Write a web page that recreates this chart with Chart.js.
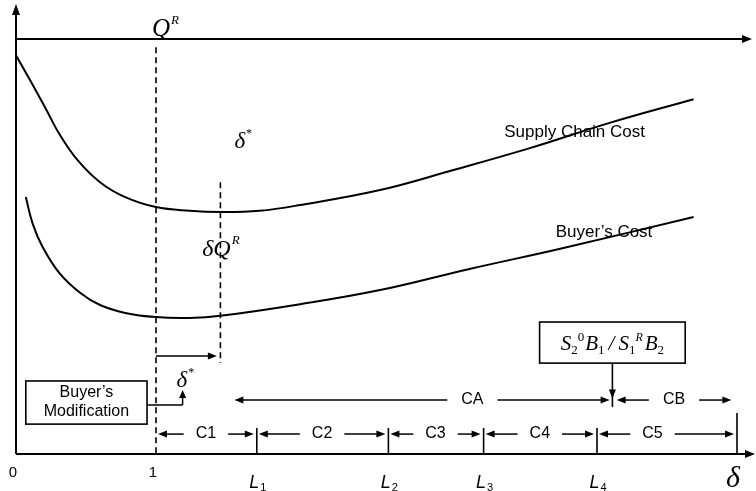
<!DOCTYPE html>
<html>
<head>
<meta charset="utf-8">
<script src="https://cdn.jsdelivr.net/npm/chart.js@4.4.1/dist/chart.umd.min.js"></script>
<style>
  html, body { margin: 0; background: #fff; }
  #wrap { width: 756px; height: 491px; }
</style>
</head>
<body>
<div id="wrap"><canvas id="chart"></canvas></div>
<script>
// Cost curves vs. delta (schematic)

const scDelta   = [0, 0.10, 0.21, 0.31, 0.44, 0.60, 0.78, 1.00, 1.24, 1.46, 1.74, 2.03, 2.60, 3.10, 3.67, 4.24, 4.84];
const scCost    = [96.1, 90.1, 83.4, 77.1, 70.8, 65.5, 61.9, 59.5, 58.6, 58.3, 58.6, 60.0, 63.6, 68.2, 73.7, 79.8, 85.5];

const buyerDelta = [0.07, 0.12, 0.19, 0.31, 0.46, 0.60, 0.78, 1.00, 1.24, 1.46, 2.03, 2.60, 3.24, 3.88, 4.84];
const buyerCost  = [61.9, 55.4, 49.9, 43.6, 38.8, 35.9, 34.0, 33.0, 32.8, 33.3, 36.1, 39.5, 44.6, 49.4, 57.1];

const xTickValues = [0, 1];
const xTickLabels = ['0', '1'];
const boundaries = [1.72, 2.66, 3.34, 4.15, 5.15];   // L1..L4 and the end of C5
const boundaryNames = ['1', '2', '3', '4'];
const regionLabels = ['C1', 'C2', 'C3', 'C4', 'C5'];
const qR = 1;
const deltaStar = 1.46;
const topLine = 100;
const caRange = [1.56, 4.24];
const cbRange = [4.29, 5.11];
const switchPoint = 4.26;

const SANS = '"Liberation Sans", Arial, sans-serif';
const SERIF = '"Liberation Serif", "Times New Roman", serif';

function toPoints(xs, ys) {
  return xs.map((x, i) => ({ x: x, y: ys[i] }));
}

// draw text made of pieces with their own font and vertical offset
function drawRich(ctx, x, y, parts, align) {
  let total = 0;
  const widths = parts.map(p => { ctx.font = p[1]; const w = ctx.measureText(p[0]).width; total += w + (p[3] || 0); return w; });
  let cx = align === 'center' ? x - total / 2 : x;
  ctx.textAlign = 'left';
  ctx.textBaseline = 'alphabetic';
  parts.forEach((p, i) => {
    ctx.font = p[1];
    ctx.fillText(p[0], cx, y + (p[2] || 0));
    cx += widths[i] + (p[3] || 0);
  });
}

const diagram = {
  id: 'diagram',
  beforeDatasetsDraw(chart) {
    const ctx = chart.ctx;
    const X = v => chart.scales.x.getPixelForValue(v);
    const Y = v => chart.scales.y.getPixelForValue(v);

    const line = (x1, y1, x2, y2, w, dash) => {
      ctx.save();
      ctx.lineWidth = w || 1.5;
      ctx.setLineDash(dash || []);
      ctx.beginPath();
      ctx.moveTo(x1, y1);
      ctx.lineTo(x2, y2);
      ctx.stroke();
      ctx.restore();
    };
    const head = (x, y, dir, len, half) => {
      len = len || 9; half = half || 3.5;
      ctx.beginPath();
      if (dir === 'r') { ctx.moveTo(x, y); ctx.lineTo(x - len, y - half); ctx.lineTo(x - len, y + half); }
      if (dir === 'l') { ctx.moveTo(x, y); ctx.lineTo(x + len, y - half); ctx.lineTo(x + len, y + half); }
      if (dir === 'u') { ctx.moveTo(x, y); ctx.lineTo(x - half, y + len); ctx.lineTo(x + half, y + len); }
      if (dir === 'd') { ctx.moveTo(x, y); ctx.lineTo(x - half, y - len); ctx.lineTo(x + half, y - len); }
      ctx.closePath();
      ctx.fill();
    };

    ctx.save();
    ctx.strokeStyle = '#000';
    ctx.fillStyle = '#000';

    // axes
    const x0 = X(0), y0 = Y(0);
    line(x0, y0, x0, chart.chartArea.top + 12, 2);
    head(x0, chart.chartArea.top + 4, 'u', 11, 4);
    line(x0, y0, chart.chartArea.right - 6, y0, 2);
    head(chart.chartArea.right - 1, y0, 'r', 10, 4);
    line(x0, Y(topLine), chart.chartArea.right - 10, Y(topLine), 2);
    head(chart.chartArea.right - 4, Y(topLine), 'r', 10, 4);

    // dashed guides
    line(X(qR), Y(98), X(qR), y0, 1.6, [6, 4]);
    line(X(deltaStar), Y(65.5), X(deltaStar), Y(21.9), 1.6, [6, 4]);

    // tick labels
    ctx.textAlign = 'center';
    ctx.textBaseline = 'middle';
    ctx.font = '15px ' + SANS;
    xTickValues.forEach((v, i) => ctx.fillText(xTickLabels[i], X(v) - 3, y0 + 19));

    // boundary ticks and L labels
    boundaries.forEach((b, i) => {
      const last = i === boundaries.length - 1;
      line(X(b), last ? y0 - 41 : y0 - 26, X(b), y0, 1.6);
      if (!last) {
        drawRich(ctx, X(b) + 1, y0 + 34, [
          ['L', 'italic 18px ' + SANS, 0, 1],
          [boundaryNames[i], '11px ' + SANS, 3]
        ], 'center');
      }
    });
    ctx.font = 'italic 30px ' + SERIF;
    ctx.textAlign = 'center';
    ctx.textBaseline = 'alphabetic';
    ctx.fillText('δ', X(boundaries[4]) - 4, y0 + 33);

    // C1..C5 row
    const rowY = Y(4.8);
    ctx.font = '16px ' + SANS;
    regionLabels.forEach((lab, i) => {
      const s = i === 0 ? qR : boundaries[i - 1];
      const e = boundaries[i];
      const xs = X(s) + 2, xe = X(e) - 3;
      const mid = (xs + xe) / 2 + (i === 4 ? -14 : 0);
      const gap = ctx.measureText(lab).width / 2 + 12;
      line(xs + 4, rowY, mid - gap, rowY, 1.5);
      head(xs, rowY, 'l');
      line(mid + gap, rowY, xe - 4, rowY, 1.5);
      head(xe, rowY, 'r');
      ctx.textAlign = 'center';
      ctx.textBaseline = 'middle';
      ctx.font = '16px ' + SANS;
      ctx.fillText(lab, mid, rowY);
    });

    // CA / CB row
    const caY = Y(13.0);
    const span = (a, b, lab, tx) => {
      const xa = X(a), xb = X(b), xm = X(tx);
      const gap = ctx.measureText(lab).width / 2 + 14;
      line(xa + 4, caY, xm - gap, caY, 1.5);
      head(xa, caY, 'l');
      line(xm + gap, caY, xb - 4, caY, 1.5);
      head(xb, caY, 'r');
      ctx.fillText(lab, xm, caY);
    };
    ctx.font = '16px ' + SANS;
    ctx.textAlign = 'center';
    ctx.textBaseline = 'middle';
    span(caRange[0], caRange[1], 'CA', 3.26);
    span(cbRange[0], cbRange[1], 'CB', 4.70);

    // switch-point box and arrow
    const bx1 = X(3.74), bx2 = X(4.78), by1 = Y(31.8), by2 = Y(21.9);
    ctx.lineWidth = 1.6;
    ctx.strokeRect(bx1, by1, bx2 - bx1, by2 - by1);
    line(X(switchPoint), by2, X(switchPoint), Y(11.3), 1.6);
    head(X(switchPoint), Y(13.4), 'd', 9, 3.5);
    const it = 'italic 21px ' + SERIF, sub = '13px ' + SERIF, sup = '13px ' + SERIF, supI = 'italic 12px ' + SERIF;
    drawRich(ctx, (bx1 + bx2) / 2, (by1 + by2) / 2 + 7, [
      ['S', it, 0, 0], ['2', sub, 4, 0], ['0', sup, -9, 1],
      ['B', it, 0, 0], ['1', sub, 4, 4],
      ['/', it, 0, 4],
      ['S', it, 0, 0], ['1', sub, 4, 0], ['R', supI, -9, 2],
      ['B', it, 0, 0], ['2', sub, 4, 0]
    ], 'center');

    // buyer's modification box
    const mx1 = X(0.07), mx2 = X(0.936), my1 = Y(17.6), my2 = Y(7.2);
    ctx.lineWidth = 1.6;
    ctx.strokeRect(mx1, my1, mx2 - mx1, my2 - my1);
    ctx.font = '16px ' + SANS;
    ctx.textAlign = 'center';
    ctx.textBaseline = 'middle';
    ctx.fillText('Buyer’s', (mx1 + mx2) / 2, my1 + 12);
    ctx.fillText('Modification', (mx1 + mx2) / 2, my1 + 31);
    const cy = Y(11.8), ux = X(1.19);
    line(mx2, cy, ux, cy, 1.5);
    line(ux, cy, ux, Y(15.4) + 6, 1.5);
    head(ux, Y(15.4), 'u', 8, 3.5);
    line(X(qR), Y(23.6), X(1.435) - 6, Y(23.6), 1.5);
    head(X(1.435), Y(23.6), 'r');

    // math labels
    const d22 = 'italic 23px ' + SERIF, star = '12px ' + SERIF;
    drawRich(ctx, ux - 6, Y(15.4) - 3, [['δ', d22, 0, 1], ['*', star, -11]], 'left');
    drawRich(ctx, X(1.56), 148, [['δ', d22, 0, 1], ['*', star, -11]], 'left');
    drawRich(ctx, X(qR) - 4, 36, [['Q', 'italic 25px ' + SERIF, 0, 1], ['R', 'italic 13px ' + SERIF, -12]], 'left');
    drawRich(ctx, X(1.33), 256, [['δQ', 'italic 24px ' + SERIF, 0, 1], ['R', 'italic 13px ' + SERIF, -12]], 'left');

    // curve labels
    ctx.font = '17px ' + SANS;
    ctx.textAlign = 'center';
    ctx.textBaseline = 'middle';
    ctx.fillText('Supply Chain Cost', X(3.99), Y(77.6));
    ctx.fillText('Buyer’s Cost', X(4.2), Y(53.3));

    ctx.restore();
  }
};

new Chart(document.getElementById('chart'), {
  type: 'line',
  data: {
    datasets: [
      {
        label: 'Supply Chain Cost',
        data: toPoints(scDelta, scCost),
        borderColor: '#000',
        borderWidth: 2,
        pointRadius: 0,
        tension: 0.4,
        fill: false
      },
      {
        label: 'Buyer’s Cost',
        data: toPoints(buyerDelta, buyerCost),
        borderColor: '#000',
        borderWidth: 2,
        pointRadius: 0,
        tension: 0.4,
        fill: false
      }
    ]
  },
  options: {
    responsive: true,
    maintainAspectRatio: false,
    animation: false,
    layout: { padding: { left: 16, right: 0, top: 0, bottom: 37 } },
    plugins: { legend: { display: false }, tooltip: { enabled: false } },
    scales: {
      x: { type: 'linear', min: 0, max: 5.2857, display: false },
      y: { type: 'linear', min: 0, max: 109.4, display: false }
    }
  },
  plugins: [diagram]
});
</script>
</body>
</html>
